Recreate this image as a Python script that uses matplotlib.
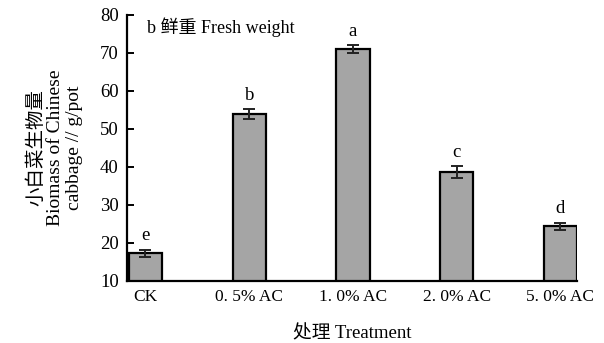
import numpy as np
import matplotlib
matplotlib.use("Agg")
import matplotlib.pyplot as plt

plt.rcParams['font.family'] = ['Liberation Serif', 'Noto Sans CJK SC']

# data
treatments = ["CK", "0. 5% AC", "1. 0% AC", "2. 0% AC", "5. 0% AC"]
biomass = [17.3, 53.9, 71.0, 38.6, 24.4]
errors = [0.9, 1.3, 1.0, 1.6, 0.9]
letters = ["e", "b", "a", "c", "d"]

fig = plt.figure(figsize=(6.04, 3.43), dpi=100)
ax = fig.add_axes([0.2103, 0.1808, 0.745, 0.7755])

x = np.arange(len(treatments))
width = 0.32
ax.bar(x, biomass, width=width, bottom=0, color="#a5a5a5", edgecolor="black",
       linewidth=1.6, zorder=2)
ax.errorbar(x, biomass, yerr=errors, fmt="none", ecolor="#222222",
            elinewidth=1.4, capsize=4.5, capthick=1.4, zorder=3)

for xi, v, e, lab in zip(x, biomass, errors, letters):
    ax.annotate(lab, (xi, v + e), xytext=(0, 4), textcoords="offset points",
                ha="center", va="bottom", fontsize=13.5)

ax.set_ylim(10, 80)
ax.set_xlim(-0.178, len(treatments) - 1 + width / 2)
ax.set_yticks(range(10, 81, 10))
ax.set_xticks(x)
ax.set_xticklabels(treatments)

ax.spines["top"].set_visible(False)
ax.spines["right"].set_visible(False)
ax.spines["left"].set_linewidth(1.6)
ax.spines["bottom"].set_linewidth(1.6)
ax.tick_params(axis="y", direction="in", length=5, width=1.4, labelsize=13.5, pad=6)
ax.tick_params(axis="x", length=0, labelsize=12.5, pad=6)

ax.text(0.045, 0.955, "b 鲜重 Fresh weight", transform=ax.transAxes,
        ha="left", va="center", fontsize=13)

ax.set_ylabel("小白菜生物量\nBiomass of Chinese\ncabbage // g/pot",
              fontsize=14, linespacing=1.15, labelpad=12)
ax.set_xlabel("处理 Treatment", fontsize=13.5, labelpad=14)

fig.savefig("out.png", dpi=100)
